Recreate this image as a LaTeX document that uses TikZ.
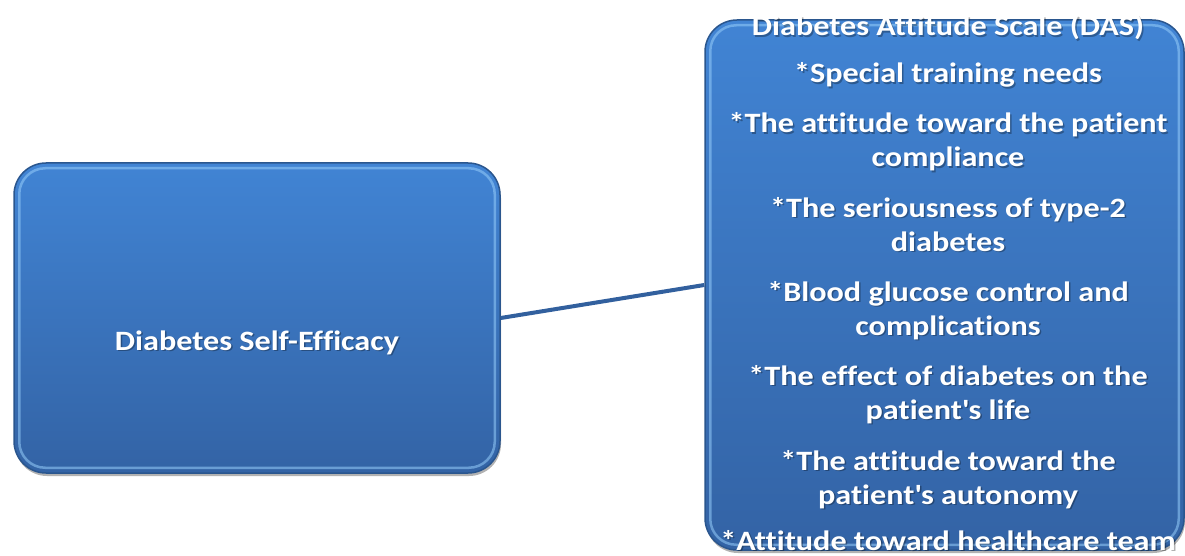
\documentclass[tikz,border=0pt]{standalone}
\usepackage{fontspec}
\setmainfont{Carlito}[FakeStretch=1.15, Ligatures={NoCommon}]
\usetikzlibrary{shadows}
\definecolor{boxtop}{RGB}{65,132,212}
\definecolor{boxbot}{RGB}{51,99,165}
\definecolor{boxedge}{RGB}{42,86,142}
\definecolor{boxhi}{RGB}{150,205,250}
\definecolor{connc}{RGB}{50,96,158}
\newcommand{\tline}[3]{%
  \node[shd] at (949.5,#2+1.5) {#3};
  \node[lbl] (#1) at (948,#2) {#3};}
\begin{document}
\begin{tikzpicture}[x=1pt,y=-1pt,
  box/.style={rectangle, rounded corners=32pt, top color=boxtop, bottom color=boxbot,
    draw=boxedge, line width=1.5pt,
    drop shadow={shadow xshift=1pt, shadow yshift=-3pt, opacity=0.3, fill=black}},
  bevel/.style={draw=boxhi, line width=2.5pt, rounded corners=26pt, opacity=0.55},
  lbl/.style={text=white, font=\bfseries\fontsize{28}{34}\selectfont, inner sep=0pt, anchor=base},
  shd/.style={text=black, text opacity=0.3, font=\bfseries\fontsize{28}{34}\selectfont, inner sep=0pt, anchor=base},
  conn/.style={draw=connc, line width=4pt}]
\useasboundingbox (0,0) rectangle (1185,556);
\node[box, minimum width=486pt, minimum height=310pt] (L) at (257,318) {};
\node[box, minimum width=479pt, minimum height=530pt] (R) at (944.5,285) {};
\draw[bevel] ([shift={(6,6)}]L.north west) rectangle ([shift={(-6,-6)}]L.south east);
\draw[bevel] ([shift={(6,6)}]R.north west) rectangle ([shift={(-6,-6)}]R.south east);
\draw[conn] (L.east) -- (R.west);
\node[shd] at (258.5,351.5) {Diabetes Self-Efficacy};
\node[lbl] (lt) at (257,350) {Diabetes Self-Efficacy};
\tline{t1}{36}{Diabetes Attitude Scale (DAS)}
\tline{t2}{83}{*Special training needs}
\tline{t3}{133}{*The attitude toward the patient}
\tline{t4}{167}{compliance}
\tline{t5}{217}{*The seriousness of type-2}
\tline{t6}{251}{diabetes}
\tline{t7}{301}{*Blood glucose control and}
\tline{t8}{335}{complications}
\tline{t9}{385}{*The effect of diabetes on the}
\tline{t10}{419}{patient\textquotesingle s life}
\tline{t11}{470}{*The attitude toward the}
\tline{t12}{504}{patient\textquotesingle s autonomy}
\tline{t13}{550}{*Attitude toward healthcare team}
\end{tikzpicture}
\end{document}
